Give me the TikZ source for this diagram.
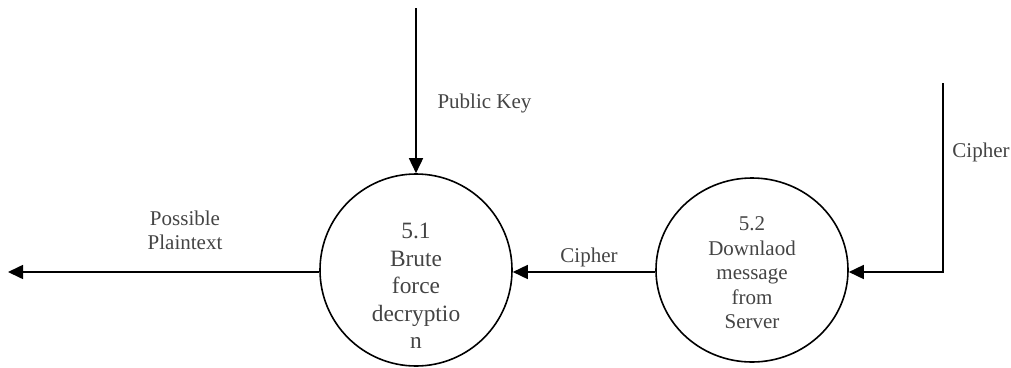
\documentclass[tikz,border=0pt]{standalone}
\usepackage{fontspec}
\setmainfont{Liberation Serif}
\usetikzlibrary{arrows.meta,shapes.geometric}
\definecolor{txtgrey}{HTML}{444444}
\begin{document}
\begin{tikzpicture}[
			x=1pt, y=-1pt,
			proc/.style = {draw, line width=1.6pt, inner sep=0pt},
			proctext/.style = {text=txtgrey, align=center},
			lbl/.style = {text=txtgrey, align=center, font=\fontsize{21}{24}\selectfont},
			flow/.style = {line width=1.6pt, -{Triangle[length=15pt,width=14pt]}}]
			
			\useasboundingbox (0,0) rectangle (1011,367);
			
			\node[proc, circle, minimum size=192pt] (p51) at (416,270) {};
			\node[proc, ellipse, minimum width=192pt, minimum height=184pt] (p52) at (752,270) {};
			
			\node[proctext, font=\fontsize{23.4}{27.5}\selectfont] (t51) at (416,286) {5.1\\Brute\\force\\decryptio\\n};
			\node[proctext, font=\fontsize{21}{24.5}\selectfont] (t52) at (752,273) {5.2\\Downlaod\\message\\from\\Server};
			
			\coordinate (keysrc) at (416,8);
			\coordinate (ciphsrc) at (943,83);
			\coordinate (ciphbend) at (943,272);
			\coordinate (plainout) at (8,272);
			
			\draw[flow] (keysrc) -- (p51.north);
			\draw[flow] (ciphsrc) -- (ciphbend) -- (p52.east |- ciphbend);
			\draw[flow] (p52.west |- ciphbend) -- (p51.east |- ciphbend);
			\draw[flow] (p51.west |- ciphbend) -- (plainout);
			
			\node[lbl, anchor=west] (lkey) at (434,103) {Public Key};
			\node[lbl] (lciph1) at (981,152) {Cipher};
			\node[lbl] (lciph2) at (589,257) {Cipher};
			\node[lbl] (lplain) at (185,230) {Possible\\Plaintext};
		\end{tikzpicture}
\end{document}
